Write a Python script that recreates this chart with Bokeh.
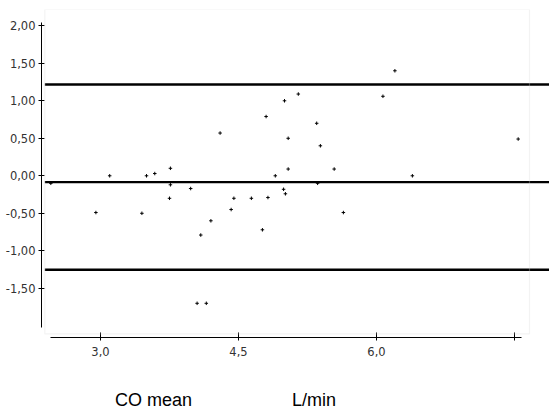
from bokeh.plotting import figure
from bokeh.models import FixedTicker, BoxAnnotation, Range1d
from bokeh.embed import file_html
from bokeh.resources import INLINE

# ---- data ----
co_mean = [2.46, 2.95, 3.10, 3.45, 3.50, 3.59, 3.76, 3.76, 3.75, 3.98,
           4.05, 4.09, 4.15, 4.20, 4.30, 4.42, 4.45, 4.64, 4.76, 4.80,
           4.82, 4.90, 4.99, 5.00, 5.01, 5.04, 5.04, 5.15, 5.35, 5.36,
           5.39, 5.54, 5.64, 6.07, 6.20, 6.39, 7.54]
co_diff = [-0.10, -0.49, 0.00, -0.50, 0.00, 0.03, 0.10, -0.12, -0.30, -0.17,
           -1.70, -0.79, -1.70, -0.60, 0.57, -0.45, -0.30, -0.30, -0.72, 0.79,
           -0.29, 0.00, -0.18, 1.00, -0.24, 0.50, 0.09, 1.09, 0.70, -0.10,
           0.40, 0.09, -0.49, 1.06, 1.40, 0.00, 0.49]
ref_lines = [1.217, -0.085, -1.253]   # upper limit, bias, lower limit

y_ticks = [-1.5, -1.0, -0.5, 0.0, 0.5, 1.0, 1.5, 2.0]
y_tick_labels = ["-1,50", "-1,00", "-0,50", "0,00", "0,50", "1,00", "1,50", "2,00"]
x_ticks = [3.0, 4.5, 6.0, 7.5]
x_tick_labels = ["3,0", "4,5", "6,0", ""]

x_title = "CO mean"
unit_title = "L/min"

# ---- layout constants ----
X_START, X_END = 2.3587, 7.8804
Y_START, Y_END = -2.156, 2.217
BOX_LEFT, BOX_RIGHT, BOX_BOTTOM = 2.395, 7.663, -2.107

p = figure(width=549, height=412, output_backend="svg", toolbar_location=None,
           x_range=Range1d(X_START, X_END), y_range=Range1d(Y_START, Y_END),
           min_border_left=41, min_border_right=0, min_border_top=9,
           min_border_bottom=75)
p.outline_line_color = None
p.grid.visible = False
p.background_fill_color = "white"
p.border_fill_color = "white"

# light grey frame
p.add_layout(BoxAnnotation(left=BOX_LEFT, right=BOX_RIGHT, bottom=BOX_BOTTOM,
                           top=Y_END, fill_alpha=0, line_color="#d6d6d6",
                           line_width=1.2))

# reference lines
p.segment(x0=[BOX_LEFT] * len(ref_lines), x1=[X_END] * len(ref_lines),
          y0=ref_lines, y1=ref_lines, line_color="black", line_width=2.3)

# points
p.scatter(co_mean, co_diff, marker="cross", size=3.5, line_color="black",
          line_width=1)

# axes
ya = p.yaxis[0]
ya.ticker = FixedTicker(ticks=y_ticks)
ya.major_label_overrides = {t: l for t, l in zip(y_ticks, y_tick_labels)}
ya.bounds = (-2.02, 2.04)
ya.minor_tick_line_color = None
ya.major_tick_in = 3
ya.major_tick_out = 3
ya.major_label_standoff = 3
ya.major_label_text_font = "DejaVu Sans"
ya.major_label_text_font_size = "11.5px"
ya.major_label_text_color = "#333333"
ya.axis_line_color = "black"

xa = p.xaxis[0]
xa.ticker = FixedTicker(ticks=x_ticks)
xa.major_label_overrides = {t: l for t, l in zip(x_ticks, x_tick_labels)}
xa.bounds = (2.457, 7.576)
xa.minor_tick_line_color = None
xa.major_tick_in = 5
xa.major_tick_out = 3
xa.major_label_standoff = 6
xa.major_label_text_font = "DejaVu Sans"
xa.major_label_text_font_size = "11.5px"
xa.major_label_text_color = "#333333"
xa.axis_line_color = "black"

# axis title: "CO mean" .... "L/min" on one line, shifted left of centre
nb = "\u00a0"
xa.axis_label = x_title + nb * 20 + unit_title + nb * 28
xa.axis_label_standoff = 31
xa.axis_label_text_font = "Liberation Sans"
xa.axis_label_text_font_size = "18px"
xa.axis_label_text_font_style = "normal"
xa.axis_label_text_color = "black"

open("out.html", "w").write(file_html(p, INLINE))
